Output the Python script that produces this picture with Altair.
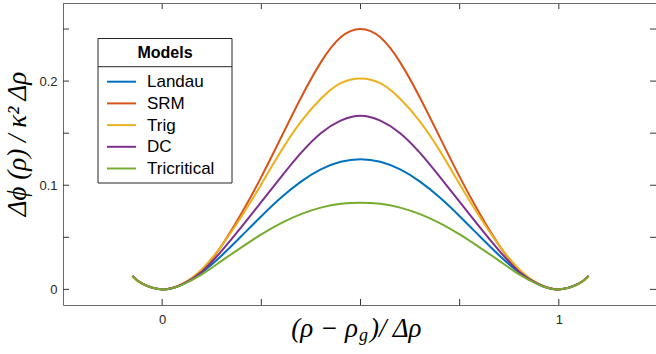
import altair as alt
import pandas as pd

# ---------------- data ----------------
rho = [-0.075, -0.05, 0.0, 0.05, 0.1, 0.15, 0.2, 0.25, 0.3, 0.35, 0.4, 0.45, 0.5,
       0.55, 0.6, 0.65, 0.7, 0.75, 0.8, 0.85, 0.9, 0.95, 1.0, 1.05, 1.075]

landau = [0.013, 0.0055, 0.0, 0.0045, 0.0162, 0.0325, 0.0512, 0.0703, 0.0882, 0.1035, 0.1152, 0.1225, 0.125,
          0.1225, 0.1152, 0.1035, 0.0882, 0.0703, 0.0512, 0.0325, 0.0162, 0.0045, 0.0, 0.0055, 0.013]
srm = [0.013, 0.0055, 0.0, 0.005, 0.018, 0.042, 0.073, 0.108, 0.146, 0.184, 0.218, 0.242, 0.25,
       0.242, 0.218, 0.184, 0.146, 0.108, 0.073, 0.042, 0.018, 0.005, 0.0, 0.0055, 0.013]
trig = [0.012, 0.005, 0.0, 0.005, 0.0194, 0.042, 0.070, 0.101, 0.133, 0.161, 0.183, 0.198, 0.2026,
        0.198, 0.183, 0.161, 0.133, 0.101, 0.070, 0.042, 0.0194, 0.005, 0.0, 0.005, 0.012]
dc = [0.013, 0.0055, 0.0, 0.0047, 0.017, 0.037, 0.060, 0.084, 0.108, 0.131, 0.150, 0.162, 0.1667,
      0.162, 0.150, 0.131, 0.108, 0.084, 0.060, 0.037, 0.017, 0.0047, 0.0, 0.0055, 0.013]
tricritical = [0.013, 0.0055, 0.0, 0.0043, 0.0144, 0.0274, 0.0404, 0.0528, 0.0637, 0.0723, 0.0785, 0.0822, 0.0833,
               0.0822, 0.0785, 0.0723, 0.0637, 0.0528, 0.0404, 0.0274, 0.0144, 0.0043, 0.0, 0.0055, 0.013]

models = ["Landau", "SRM", "Trig", "DC", "Tricritical"]
series = [landau, srm, trig, dc, tricritical]
colors = ["#0072BD", "#D95319", "#EDB120", "#7E2F8E", "#77AC30"]

x_ticks = [0.0, 0.25, 0.5, 0.75, 1.0]
x_labels = [0, 1]
y_ticks = [0.0, 0.05, 0.1, 0.15, 0.2, 0.25]
y_labels = [0, 0.1, 0.2]

legend_title = "Models"
y_title = "Δϕ (ρ) / κ² Δρ"
x_title_parts = ["(ρ − ρ", "g", ")/ Δρ"]

# ---------------- layout ----------------
W, H = 593, 302
AXIS_COLOR = "#6a6a6a"
TICK_COLOR = "#333333"
TICK_LEN = 6
TEXT_COLOR = "#262626"

rows = []
for name, vals in zip(models, series):
    for r, v in zip(rho, vals):
        rows.append({"rho": r, "phi": v, "model": name})
df = pd.DataFrame(rows)

xscale = alt.Scale(domain=[-0.25, 1.245], nice=False, zero=False)
yscale = alt.Scale(domain=[-0.015, 0.275], nice=False, zero=False)
YMIN, YMAX = -0.015, 0.275
XMIN = -0.25

lines = alt.Chart(df).mark_line(strokeWidth=2, interpolate="natural").encode(
    x=alt.X("rho:Q", scale=xscale,
            axis=alt.Axis(values=x_labels, title=None, grid=False, ticks=False,
                          labelPadding=8, labelFontSize=13, labelFont="Liberation Sans",
                          labelColor=TEXT_COLOR, domainColor=AXIS_COLOR, format="d")),
    y=alt.Y("phi:Q", scale=yscale,
            axis=alt.Axis(values=y_labels, title=None, grid=False, ticks=False,
                          labelPadding=6, labelFontSize=13, labelFont="Liberation Sans",
                          labelColor=TEXT_COLOR, domainColor=AXIS_COLOR,
                          labelExpr="datum.value == 0 ? '0' : format(datum.value, '.1f')")),
    color=alt.Color("model:N", scale=alt.Scale(domain=models, range=colors), legend=None),
)

xt = pd.DataFrame({"rho": x_ticks})
yt = pd.DataFrame({"phi": y_ticks})

# inward tick marks (MATLAB box style), positioned through the shared scales
xtick_bottom = alt.Chart(xt).mark_rule(color=TICK_COLOR, strokeWidth=1, y2Offset=-TICK_LEN).encode(
    x=alt.X("rho:Q", scale=xscale), y=alt.datum(YMIN), y2=alt.datum(YMIN))
xtick_top = alt.Chart(xt).mark_rule(color=TICK_COLOR, strokeWidth=1, y2Offset=TICK_LEN).encode(
    x=alt.X("rho:Q", scale=xscale), y=alt.datum(YMAX), y2=alt.datum(YMAX))
ytick_left = alt.Chart(yt).mark_rule(color=TICK_COLOR, strokeWidth=1, x2Offset=TICK_LEN).encode(
    y=alt.Y("phi:Q", scale=yscale), x=alt.datum(XMIN), x2=alt.datum(XMIN))
ytick_right = alt.Chart(yt).mark_rule(color=TICK_COLOR, strokeWidth=1).encode(
    y=alt.Y("phi:Q", scale=yscale), x=alt.value(W - TICK_LEN), x2=alt.value(W))
top_line = alt.Chart(pd.DataFrame({"a": [0]})).mark_rule(color=AXIS_COLOR, strokeWidth=1).encode(
    x=alt.value(0), x2=alt.value(W), y=alt.value(0.5))

# ---------------- legend (drawn by hand, MATLAB style) ----------------
one = pd.DataFrame({"a": [0]})
LX0, LX1, LY0, LY1 = 35, 169, 35.5, 180
SEP = 63.7
box = alt.Chart(one).mark_rect(fill="white", stroke="#262626", strokeWidth=1).encode(
    x=alt.value(LX0), x2=alt.value(LX1), y=alt.value(LY0), y2=alt.value(LY1))
sep = alt.Chart(one).mark_rule(color="#262626", strokeWidth=1).encode(
    x=alt.value(LX0), x2=alt.value(LX1), y=alt.value(SEP))
ltitle = alt.Chart(pd.DataFrame({"t": [legend_title]})).mark_text(
    font="Liberation Sans", fontSize=16, fontWeight="bold", color="black",
    align="center", baseline="middle").encode(
    text="t:N", x=alt.value((LX0 + LX1) / 2), y=alt.value(50))

legend_layers = [box, sep, ltitle]
for i, (name, col) in enumerate(zip(models, colors)):
    yy = 78.7 + i * 21.7
    legend_layers.append(
        alt.Chart(one).mark_rule(color=col, strokeWidth=2).encode(
            x=alt.value(44), x2=alt.value(73), y=alt.value(yy)))
    legend_layers.append(
        alt.Chart(pd.DataFrame({"m": [name]})).mark_text(
            font="Liberation Sans", fontSize=17, color="black", align="left",
            baseline="middle").encode(text="m:N", x=alt.value(84), y=alt.value(yy + 0.5)))

# ---------------- axis titles ----------------
ytitle = alt.Chart(pd.DataFrame({"t": [y_title]})).mark_text(
    font="Liberation Serif", fontSize=27, fontStyle="italic", angle=270,
    color="black", align="center", baseline="middle").encode(
    text="t:N", x=alt.value(-45), y=alt.value(141))

xt1 = alt.Chart(pd.DataFrame({"t": [x_title_parts[0]]})).mark_text(
    font="Liberation Serif", fontSize=27, fontStyle="italic", color="black",
    align="right", baseline="alphabetic").encode(text="t:N", x=alt.value(295), y=alt.value(334))
xt2 = alt.Chart(pd.DataFrame({"t": [x_title_parts[1]]})).mark_text(
    font="Liberation Serif", fontSize=18, fontStyle="italic", color="black",
    align="left", baseline="alphabetic").encode(text="t:N", x=alt.value(296), y=alt.value(338))
xt3 = alt.Chart(pd.DataFrame({"t": [x_title_parts[2]]})).mark_text(
    font="Liberation Serif", fontSize=27, fontStyle="italic", color="black",
    align="left", baseline="alphabetic").encode(text="t:N", x=alt.value(307), y=alt.value(334))

chart = alt.layer(
    lines, xtick_bottom, xtick_top, ytick_left, ytick_right, top_line,
    *legend_layers, ytitle, xt1, xt2, xt3
).properties(
    width=W, height=H,
    autosize=alt.AutoSizeParams(type="none"),
    padding={"left": 63, "top": 3, "right": 0, "bottom": 46},
    background="white",
).configure_view(stroke=None)

chart.save("out.html", embed_options={"renderer": "svg", "actions": False})
